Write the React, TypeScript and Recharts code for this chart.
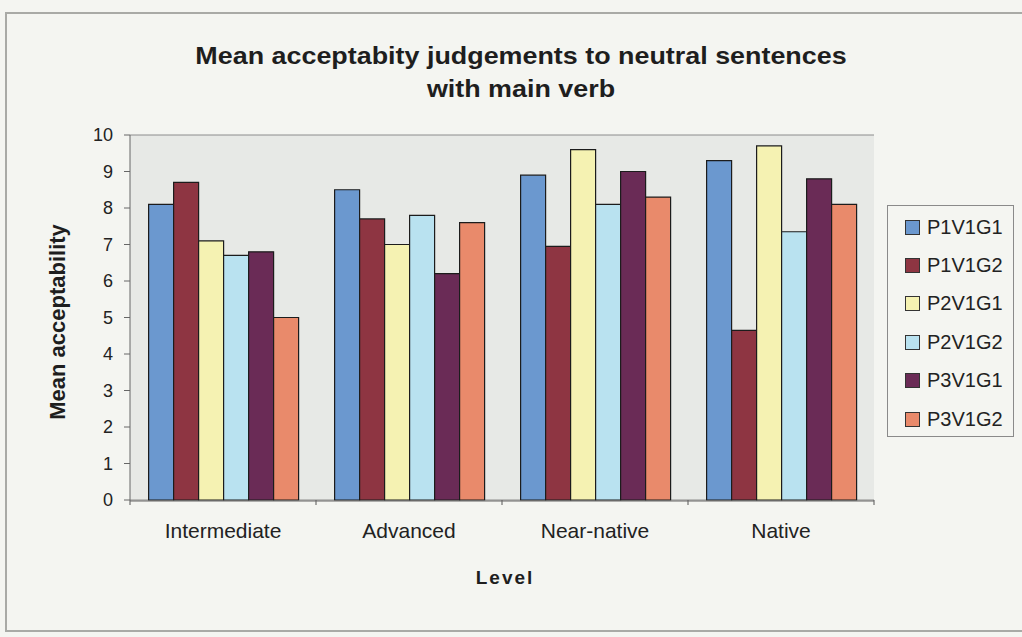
import React from 'react';
import { BarChart, Bar, XAxis, YAxis, CartesianGrid, Legend } from 'recharts';

const categories = ['Intermediate', 'Advanced', 'Near-native', 'Native'];
const P1V1G1 = [8.1, 8.5, 8.9, 9.3];
const P1V1G2 = [8.7, 7.7, 6.95, 4.65];
const P2V1G1 = [7.1, 7.0, 9.6, 9.7];
const P2V1G2 = [6.7, 7.8, 8.1, 7.35];
const P3V1G1 = [6.8, 6.2, 9.0, 8.8];
const P3V1G2 = [5.0, 7.6, 8.3, 8.1];
const yTicks = [0, 1, 2, 3, 4, 5, 6, 7, 8, 9, 10];
const boundaryTicks = [0, 1, 2, 3, 4];

const seriesNames = ['P1V1G1', 'P1V1G2', 'P2V1G1', 'P2V1G2', 'P3V1G1', 'P3V1G2'];
const seriesValues = [P1V1G1, P1V1G2, P2V1G1, P2V1G2, P3V1G1, P3V1G2];
const seriesColors = ['#6b98cf', '#8e3542', '#f5f2b2', '#b9e2f0', '#6a2b56', '#e98a6b'];

const data = categories.map((c, i) => {
  const row: Record<string, string | number> = { level: c, pos: i + 0.5 };
  seriesNames.forEach((n, k) => {
    row[n] = seriesValues[k][i];
  });
  return row;
});

const FONT = "'Liberation Sans', Arial, sans-serif";

const LegendBox = () => (
  <div
    style={{
      width: 127,
      height: 232,
      border: '1px solid #8a8a8a',
      background: '#f4f5f1',
      boxSizing: 'border-box',
      paddingTop: 2,
      fontFamily: FONT,
    }}
  >
    {seriesNames.map((n, k) => (
      <div key={n} style={{ height: 38.4, display: 'flex', alignItems: 'center', paddingLeft: 17 }}>
        <div
          style={{
            width: 13,
            height: 13,
            background: seriesColors[k],
            border: '1px solid #333',
            marginRight: 7,
            flexShrink: 0,
          }}
        />
        <span style={{ fontSize: 20, color: '#222', whiteSpace: 'nowrap' }}>{n}</span>
      </div>
    ))}
  </div>
);

export default function App() {
  return (
    <div
      style={{
        position: 'absolute',
        left: 0,
        top: 0,
        width: 1022,
        height: 637,
        background: '#f4f5f1',
        overflow: 'hidden',
        fontFamily: FONT,
      }}
    >
      <div
        style={{
          position: 'absolute',
          left: 5,
          top: 12,
          width: 1040,
          height: 620,
          border: '2px solid #a9aaa6',
          boxSizing: 'border-box',
        }}
      />
      <div
        style={{
          position: 'absolute',
          left: 121,
          top: 39,
          width: 800,
          textAlign: 'center',
          fontSize: 24,
          fontWeight: 'bold',
          lineHeight: '33px',
          color: '#1e1e1e',
          transform: 'scaleX(1.12)',
          transformOrigin: '400px 0',
        }}
      >
        Mean acceptabity judgements to neutral sentences
        <br />
        with main verb
      </div>
      <div
        style={{
          position: 'absolute',
          left: 58,
          top: 322,
          transform: 'translate(-50%, -50%) rotate(-90deg)',
          fontSize: 22,
          fontWeight: 'bold',
          whiteSpace: 'nowrap',
          color: '#1e1e1e',
        }}
      >
        Mean acceptability
      </div>
      <div
        style={{
          position: 'absolute',
          left: 505,
          top: 578,
          transform: 'translate(-50%, -50%)',
          fontSize: 19,
          fontWeight: 'bold',
          letterSpacing: 2,
          whiteSpace: 'nowrap',
          color: '#1e1e1e',
        }}
      >
        Level
      </div>
      <div style={{ position: 'absolute', left: 0, top: 0 }}>
        <BarChart
          width={1022}
          height={637}
          data={data}
          margin={{ top: 135, right: 148, bottom: 106, left: 60 }}
          barCategoryGap="10%"
          barGap={0}
        >
          <CartesianGrid vertical={false} stroke="#8c8c8c" fill="#e7e9e6" fillOpacity={1} />
          <XAxis
            xAxisId="bounds"
            dataKey="pos"
            type="number"
            domain={[0, 4]}
            ticks={boundaryTicks}
            tickFormatter={() => ''}
            height={1}
            tickSize={5}
            axisLine={false}
            tickLine={{ stroke: '#555' }}
            allowDataOverflow
            interval={0}
          />
          <XAxis
            xAxisId="cat"
            dataKey="level"
            height={30}
            tickLine={false}
            tickSize={7}
            tickMargin={15}
            axisLine={{ stroke: '#666' }}
            tick={{ fontSize: 21, fill: '#222', fontFamily: FONT }}
            interval={0}
          />
          <YAxis
            yAxisId="left"
            domain={[0, 10]}
            ticks={yTicks}
            width={70}
            tickSize={6}
            tickMargin={11}
            axisLine={{ stroke: '#666' }}
            tickLine={{ stroke: '#666' }}
            tick={{ fontSize: 18, fill: '#222', fontFamily: FONT }}
            interval={0}
          />
          <YAxis
            yAxisId="right"
            orientation="right"
            domain={[0, 10]}
            width={0}
            tick={false}
            tickLine={false}
            axisLine={{ stroke: '#8c8c8c' }}
          />
          <Legend
            layout="vertical"
            align="center"
            verticalAlign="middle"
            content={() => <LegendBox />}
            wrapperStyle={{ position: 'absolute', left: 887, top: 205, width: 127, height: 232 }}
          />
          {seriesNames.map((n, k) => (
            <Bar
              key={n}
              dataKey={n}
              name={n}
              xAxisId="cat"
              yAxisId="left"
              fill={seriesColors[k]}
              stroke="#1c1c1c"
              strokeWidth={1.2}
              isAnimationActive={false}
            />
          ))}
        </BarChart>
      </div>
    </div>
  );
}
